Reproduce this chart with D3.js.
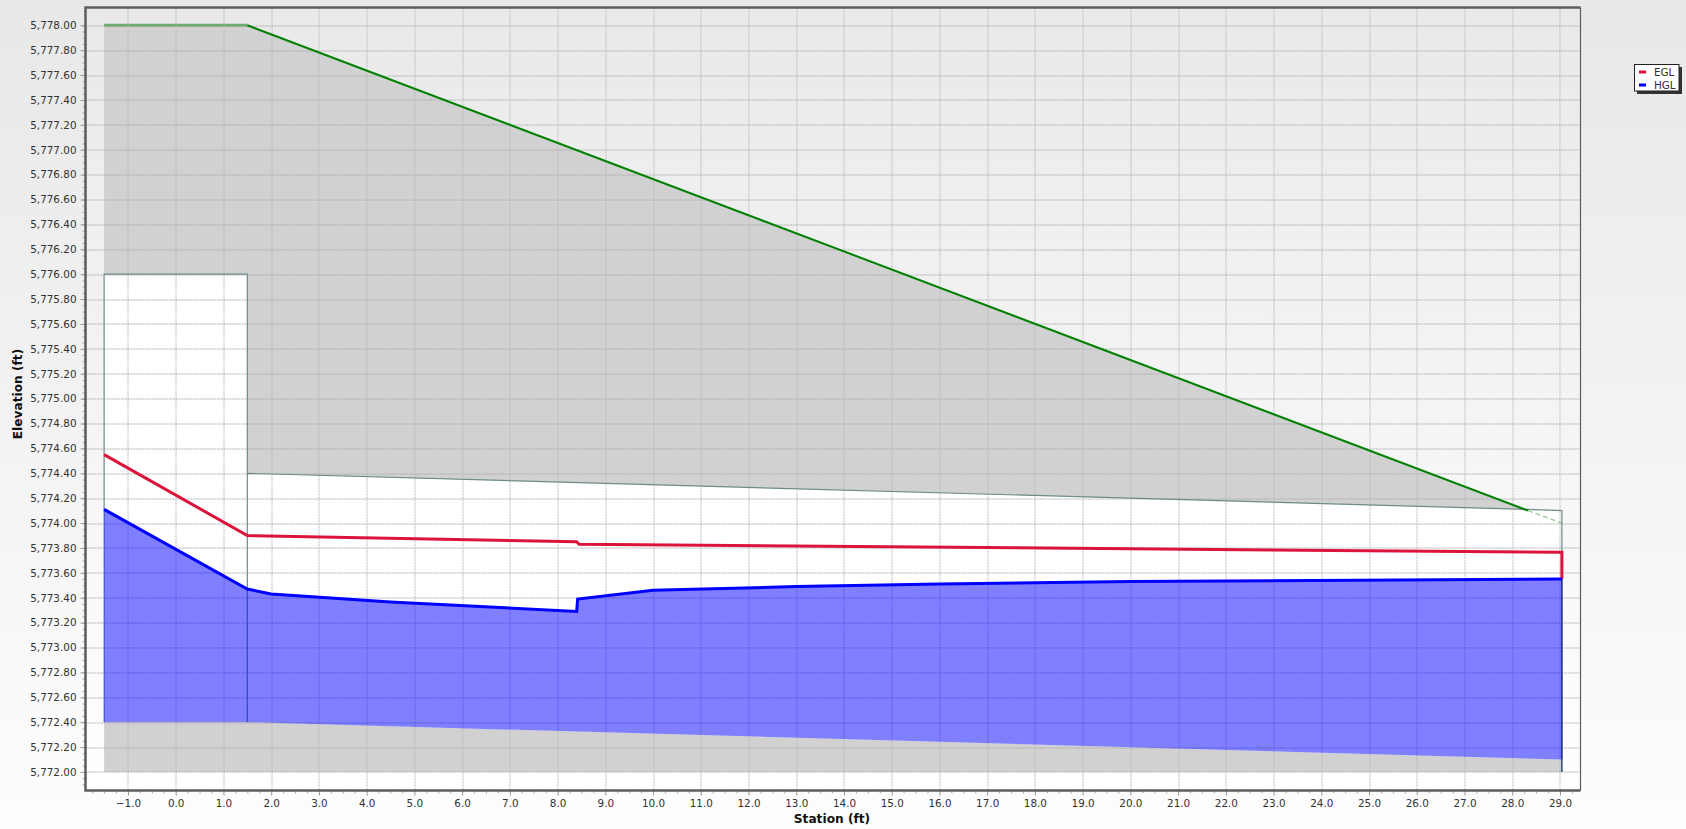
<!DOCTYPE html>
<html>
<head>
<meta charset="utf-8">
<title>Culvert profile</title>
<script src="https://cdn.jsdelivr.net/npm/d3@7"></script>
<style>
  html, body { margin: 0; padding: 0; background: #f4f4f4; }
  svg { display: block; }
  text { font-family: "DejaVu Sans", Verdana, sans-serif; fill: #333; }
  .tick text { font-size: 10.4px; }
  .title { font-size: 12.2px; font-weight: bold; fill: #111; }
  .legend text { font-size: 10.4px; }
  .domain { display: none; }
</style>
</head>
<body>
<svg id="chart" width="1686" height="829"></svg>
<script>
// Tick labels
const xTicks = d3.range(-1, 30);
const yTicks = d3.range(0, 31).map(i => 5772 + i * 0.2);

// Road / embankment surface
const roadStations = [-1.5, 1.5, 28.33, 29.04];
const roadElev     = [5778, 5778, 5774.1, 5774.0];

// Culvert
const crownStations  = [1.5, 28.33, 29.04];
const crownElev      = [5774.4, 5774.11, 5774.1];
const invertStations = [-1.5, 1.5, 29.04];
const invertElev     = [5772.4, 5772.4, 5772.1];
const headwallTop    = 5776;
const chartFloor     = 5772;

// Series
const eglStations = [-1.5, 1.5, 8.4, 8.45, 29.04, 29.04];
const eglElev     = [5774.55, 5773.9, 5773.85, 5773.83, 5773.765, 5773.55];
const hglStations = [-1.5, 1.5, 2.0, 4.5, 8.4, 8.42, 10.0, 13.0, 16.0, 20.0, 29.04];
const hglElev     = [5774.11, 5773.47, 5773.43, 5773.365, 5773.29, 5773.39, 5773.46, 5773.49, 5773.51, 5773.53, 5773.55];

const legendLabels = ['EGL', 'HGL'];
const legendColors = ['#dc143c', '#0000ff'];

const margin = {top: 7.5, right: 105.5, bottom: 38.5, left: 85.5};
const width  = 1686 - margin.left - margin.right;
const height = 829 - margin.top - margin.bottom;

const root = d3.select('#chart');

// Backgrounds
const defs = root.append('defs');
const addGrad = (id, c0, c1) => {
  const g = defs.append('linearGradient').attr('id', id)
    .attr('x1', 0).attr('y1', 0).attr('x2', 0).attr('y2', 1);
  g.append('stop').attr('offset', '0%').attr('stop-color', c0);
  g.append('stop').attr('offset', '100%').attr('stop-color', c1);
};
addGrad('pageBg', '#e8e8e8', '#fdfdfd');
addGrad('plotBg', '#e9e9e9', '#ffffff');

root.append('rect')
  .attr('width', 1686).attr('height', 829)
  .attr('fill', 'url(#pageBg)');

const svg = root.append('g')
  .attr('transform', `translate(${margin.left},${margin.top})`);

// Scales
const x = d3.scaleLinear().domain([-1.89, 29.43]).range([0, width]);
const y = d3.scaleLinear().domain([5771.851, 5778.143]).range([height, 0]);

const line = d3.line().x(d => x(d[0])).y(d => y(d[1]));
const zipPts = (xs, ys) => xs.map((s, i) => [s, ys[i]]);
const shape = pts => line(pts) + 'Z';

const road   = zipPts(roadStations, roadElev);
const crown  = zipPts(crownStations, crownElev);
const invert = zipPts(invertStations, invertElev);
const egl    = zipPts(eglStations, eglElev);
const hgl    = zipPts(hglStations, hglElev);

const xLeft = invertStations[0], xCulvert = invertStations[1], xRight = invertStations[2];

svg.append('rect')
  .attr('width', width).attr('height', height)
  .attr('fill', 'url(#plotBg)');

// White culvert / headwater openings
svg.append('path')
  .attr('fill', '#fff')
  .attr('d', shape([[xLeft, headwallTop], [xCulvert, headwallTop], [xCulvert, crownElev[0]],
    ...crown, ...invert.slice().reverse()]));

// Grey fill above the crown and below the invert
svg.append('path')
  .attr('fill', '#d1d1d1')
  .attr('d', shape([road[0], road[1], road[2], crown[1], crown[0],
    [xCulvert, headwallTop], [xLeft, headwallTop]]));
svg.append('path')
  .attr('fill', '#d1d1d1')
  .attr('d', shape([...invert, [xRight, chartFloor], [xLeft, chartFloor]]));

// Road surface outside the solid run is faint
svg.append('path')
  .attr('fill', 'none').attr('stroke', '#008000').attr('stroke-opacity', 0.55).attr('stroke-width', 3)
  .attr('d', line(road.slice(0, 2)));
svg.append('path')
  .attr('fill', 'none').attr('stroke', '#008000').attr('stroke-opacity', 0.4).attr('stroke-width', 1.5)
  .attr('stroke-dasharray', '5,3')
  .attr('d', line(road.slice(2)));

// Grid
const grid = svg.append('g').attr('fill', 'none');
grid.selectAll('line.v')
  .data(xTicks)
  .enter().append('line')
    .attr('class', 'v')
    .attr('x1', d => Math.round(x(d)) + 0.5).attr('x2', d => Math.round(x(d)) + 0.5)
    .attr('y1', 0).attr('y2', height)
    .attr('stroke', '#bbb').attr('stroke-dasharray', '2,1');
grid.selectAll('line.h')
  .data(yTicks)
  .enter().append('line')
    .attr('class', 'h')
    .attr('x1', 0).attr('x2', width)
    .attr('y1', d => Math.round(y(d)) + 0.5).attr('y2', d => Math.round(y(d)) + 0.5)
    .attr('stroke', '#adadad').attr('stroke-dasharray', '2,1');

// Culvert walls
const wall = (pts, w) => svg.append('path')
  .attr('fill', 'none').attr('stroke', '#6d8a8a').attr('stroke-width', w)
  .attr('d', line(pts));
wall([[xLeft, invertElev[0]], [xLeft, headwallTop], [xCulvert, headwallTop], [xCulvert, invertElev[1]]], 1.2);
wall([...crown, [xRight, invertElev[2]]], 1.2);
svg.append('path')
  .attr('fill', 'none').attr('stroke', '#2a4a6a').attr('stroke-width', 1.5)
  .attr('d', line([[xRight, hglElev[hglElev.length - 1]], [xRight, chartFloor]]));

// Water
svg.append('path')
  .attr('fill', '#0000ff').attr('fill-opacity', 0.5)
  .attr('d', shape([...hgl, ...invert.slice().reverse()]));

// Lines
svg.append('path')
  .attr('fill', 'none').attr('stroke', '#008000').attr('stroke-width', 2)
  .attr('d', line(road.slice(1, 3)));
svg.append('path')
  .attr('fill', 'none').attr('stroke', legendColors[0]).attr('stroke-width', 3)
  .attr('d', line(egl));
svg.append('path')
  .attr('fill', 'none').attr('stroke', legendColors[1]).attr('stroke-width', 3)
  .attr('d', line(hgl));

// Axes
const minorX = d3.range(-7, 118).map(i => i * 0.25).filter(d => d % 1 !== 0);
const minorY = d3.range(0, 123).map(i => 5771.9 + i * 0.05);

svg.append('g')
  .attr('transform', `translate(0,${height})`)
  .call(d3.axisBottom(x).tickValues(minorX).tickSize(3).tickFormat(''))
  .selectAll('line').attr('stroke', '#aaa');
svg.append('g')
  .call(d3.axisLeft(y).tickValues(minorY).tickSize(3).tickFormat(''))
  .selectAll('line').attr('stroke', '#aaa');

const xAxis = svg.append('g')
  .attr('transform', `translate(0,${height})`)
  .call(d3.axisBottom(x).tickValues(xTicks).tickSize(5).tickPadding(4).tickFormat(d3.format('.1f')));
xAxis.selectAll('line').attr('stroke', '#999');
xAxis.selectAll('text').attr('fill', '#333').attr('font-family', null);

const yAxis = svg.append('g')
  .call(d3.axisLeft(y).tickValues(yTicks).tickSize(5).tickPadding(4).tickFormat(d3.format(',.2f')));
yAxis.selectAll('line').attr('stroke', '#999');
yAxis.selectAll('text').attr('fill', '#333').attr('font-family', null);

// Frame
const frame = svg.append('g').attr('fill', 'none').attr('stroke', '#5c5c5c');
frame.append('path').attr('stroke-width', 2.5)
  .attr('d', `M${width},0H0V${height}H${width}`);
frame.append('path').attr('stroke-width', 1.2)
  .attr('d', `M${width},0V${height}`);

// Axis titles
root.append('text')
  .attr('class', 'title')
  .attr('x', 832).attr('y', 822.5)
  .attr('text-anchor', 'middle')
  .text('Station (ft)');
root.append('text')
  .attr('class', 'title')
  .attr('transform', 'translate(22,394) rotate(-90)')
  .attr('text-anchor', 'middle')
  .text('Elevation (ft)');

// Legend
const legend = root.append('g').attr('class', 'legend');
legend.append('rect')
  .attr('x', 1637).attr('y', 67).attr('width', 45).attr('height', 27)
  .attr('fill', '#333');
legend.append('rect')
  .attr('x', 1634.5).attr('y', 64.5).attr('width', 44.5).attr('height', 26.5)
  .attr('fill', '#fff').attr('stroke', '#222');
legendLabels.forEach((label, i) => {
  const cy = 72 + i * 13;
  legend.append('rect')
    .attr('x', 1639).attr('y', cy - 1.5).attr('width', 7).attr('height', 3)
    .attr('fill', legendColors[i]);
  legend.append('text')
    .attr('x', 1654).attr('y', cy + 4)
    .text(label);
});
</script>
</body>
</html>
